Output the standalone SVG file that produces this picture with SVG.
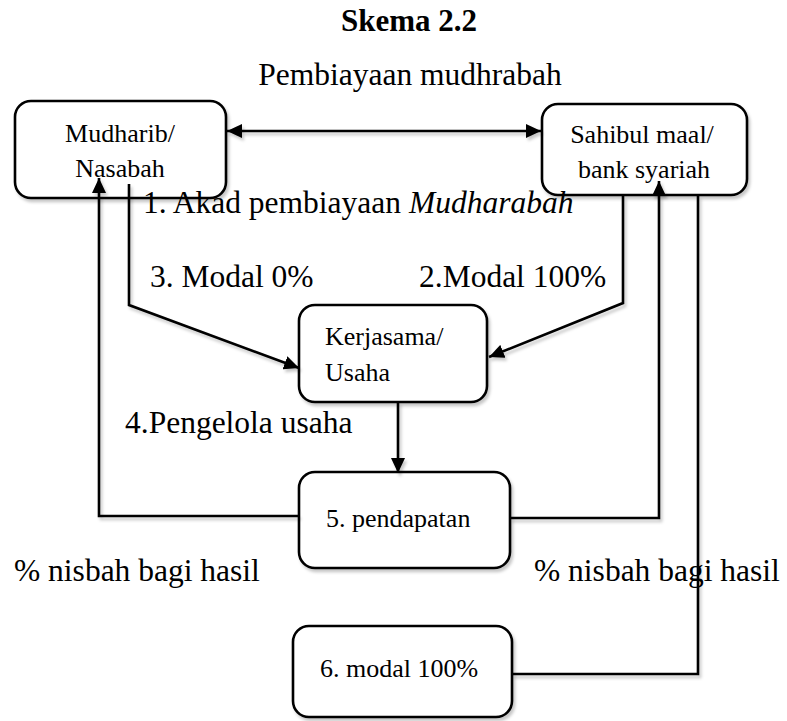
<svg xmlns="http://www.w3.org/2000/svg" width="787" height="721" viewBox="0 0 787 721">
<style>
.box{fill:#fff;stroke:#000;stroke-width:2.6}
.node{font-family:"Liberation Serif","Times New Roman",serif;font-size:26px;fill:#000}
.lbl{font-family:"Liberation Serif","Times New Roman",serif;font-size:31.5px;fill:#000}
.ttl{font-family:"Liberation Serif","Times New Roman",serif;font-size:31px;font-weight:bold;fill:#000}
.con{fill:none;stroke:#000;stroke-width:2.6}
</style>
<defs>
<filter id="sh" x="-10%" y="-10%" width="130%" height="130%">
<feDropShadow dx="2" dy="3" stdDeviation="1.5" flood-color="#000" flood-opacity="0.22"/>
</filter>
<marker id="ah" viewBox="0 0 15 14" markerWidth="15" markerHeight="14" refX="15" refY="7" orient="auto-start-reverse" markerUnits="userSpaceOnUse">
<path d="M0,0 L15,7 L0,14 z" fill="#000"/>
</marker>
</defs>
<rect width="787" height="721" fill="#fff"/>

<text class="ttl" x="409" y="31" text-anchor="middle">Skema 2.2</text>
<text class="lbl" x="410" y="85" text-anchor="middle">Pembiayaan mudhrabah</text>

<g id="node-mudharib">
<rect class="box" x="15" y="101" width="211" height="97" rx="16" filter="url(#sh)"/>
<text class="node" x="120" y="142" text-anchor="middle">Mudharib/</text>
<text class="node" x="120" y="177" text-anchor="middle">Nasabah</text>
</g>

<g id="node-sahibul">
<rect class="box" x="542" y="104" width="205" height="91" rx="16" filter="url(#sh)"/>
<text class="node" x="642" y="143" text-anchor="middle">Sahibul maal/</text>
<text class="node" x="644" y="178" text-anchor="middle">bank syariah</text>
</g>

<g id="node-kerjasama">
<rect class="box" x="299" y="305" width="188" height="97" rx="16" filter="url(#sh)"/>
<text class="node" x="325" y="345">Kerjasama/</text>
<text class="node" x="325" y="381">Usaha</text>
</g>

<g id="node-pendapatan">
<rect class="box" x="299" y="472" width="211" height="96" rx="16" filter="url(#sh)"/>
<text class="node" x="326" y="527">5. pendapatan</text>
</g>

<g id="node-modal">
<rect class="box" x="293" y="626" width="219" height="91" rx="16" filter="url(#sh)"/>
<text class="node" x="320" y="677">6. modal 100%</text>
</g>

<g id="connectors" filter="url(#sh)">
<path class="con" d="M227,131 L541,131" marker-start="url(#ah)" marker-end="url(#ah)"/>
<path class="con" d="M129,184 L129,305 L299,368" marker-end="url(#ah)"/>
<path class="con" d="M623,196 L623,303 L489,357" marker-end="url(#ah)"/>
<path class="con" d="M398,402 L398,473" marker-end="url(#ah)"/>
<path class="con" d="M299,516 L99,516 L99,178" marker-end="url(#ah)"/>
<path class="con" d="M510,518 L659,518 L659,181" marker-end="url(#ah)"/>
<path class="con" d="M512,674 L698,674 L698,196"/>
</g>

<g id="labels">
<text class="lbl" x="143" y="213">1. Akad pembiayaan <tspan font-style="italic">Mudharabah</tspan></text>
<text class="lbl" x="150" y="287">3. Modal 0%</text>
<text class="lbl" x="419" y="287">2.Modal 100%</text>
<text class="lbl" x="125" y="433">4.Pengelola usaha</text>
<text class="lbl" x="14" y="581">% nisbah bagi hasil</text>
<text class="lbl" x="534" y="581">% nisbah bagi hasil</text>
</g>
</svg>
